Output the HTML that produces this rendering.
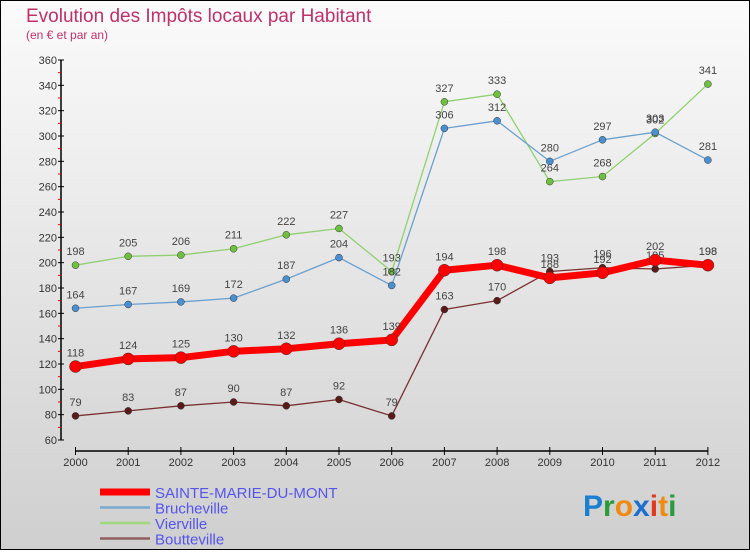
<!DOCTYPE html>
<html><head><meta charset="utf-8"><style>
body{margin:0;width:750px;height:550px;overflow:hidden;font-family:"Liberation Sans",sans-serif}
svg text{font-family:"Liberation Sans",sans-serif}
</style></head><body>
<svg width="750" height="550" xmlns="http://www.w3.org/2000/svg">
<defs><linearGradient id="bg" x1="0" y1="0" x2="0" y2="1"><stop offset="0" stop-color="#fbfbfb"/><stop offset="1" stop-color="#cfcfcf"/></linearGradient></defs>
<rect x="0.5" y="0.5" width="749" height="549" fill="url(#bg)" stroke="#000"/>
<text x="26" y="22" font-size="19" fill="#c0306a">Evolution des Impôts locaux par Habitant</text>
<text x="26" y="39" font-size="12" fill="#c0306a">(en € et par an)</text>
<g id="axes"></g>
<g id="series"></g>
<g id="legend"></g>
<text x="583" y="516" font-size="30" font-weight="bold"><tspan fill="#1a7fd0">P</tspan><tspan fill="#2a9a3a">r</tspan><tspan fill="#f08a10">o</tspan><tspan fill="#1a6fd0">x</tspan><tspan fill="#e03a20">i</tspan><tspan fill="#f08a10">t</tspan><tspan fill="#2a9a3a">i</tspan></text>
</svg>
<script>
const years=[2000,2001,2002,2003,2004,2005,2006,2007,2008,2009,2010,2011,2012];
const yTicks=[60,80,100,120,140,160,180,200,220,240,260,280,300,320,340,360];
const smdm=[118,124,125,130,132,136,139,194,198,188,192,202,198];
const bruch=[164,167,169,172,187,204,182,306,312,280,297,303,281];
const vier=[198,205,206,211,222,227,193,327,333,264,268,302,341];
const bout=[79,83,87,90,87,92,79,163,170,193,196,195,198];
const NS="http://www.w3.org/2000/svg";
const X=i=>75.5+i*52.7;
const Y=v=>440-(v-60)*380/300;
function mk(tag,attrs,parent,txt){const e=document.createElementNS(NS,tag);for(const k in attrs)e.setAttribute(k,attrs[k]);if(txt!==undefined)e.textContent=txt;parent.appendChild(e);return e;}
const ax=document.getElementById('axes');
let e=mk('line',{x1:61,y1:60,x2:61,y2:440,stroke:'#000','stroke-width':1.5},ax);


e=mk('line',{x1:75.5,y1:451,x2:708,y2:451,stroke:'#000','stroke-width':1.5},ax);


yTicks.forEach(v=>{
  mk('line',{x1:58,x2:64,y1:Y(v),y2:Y(v),stroke:'#000'},ax);
  if(v<360) mk('line',{x1:58,x2:61,y1:Y(v+10),y2:Y(v+10),stroke:'#e00'},ax);
  const t=mk('text',{x:57,y:Y(v)+4,'font-size':11,fill:'#333','text-anchor':'end'},ax,v);
  
  
});
years.forEach((y,i)=>{
  mk('line',{x1:X(i),x2:X(i),y1:447,y2:455,stroke:'#000'},ax);
  const t=mk('text',{x:X(i),y:466,'font-size':11,fill:'#333','text-anchor':'middle'},ax,y);
  
  
});
const sg=document.getElementById('series');
function series(data,color,dot,w,r,name){
  const g=mk('g',{},sg);
  
  
  mk('polyline',{points:data.map((v,i)=>X(i)+','+Y(v)).join(' '),fill:'none',stroke:color,'stroke-width':w,'stroke-linejoin':'round'},g);
  data.forEach((v,i)=>{
    const c=mk('circle',{cx:X(i),cy:Y(v),r:r,fill:dot,stroke:'#333','stroke-width':0.5},g);
    
    
    const t=mk('text',{x:X(i),y:Y(v)-10,'font-size':11,fill:'#444','text-anchor':'middle'},g,v);
    
    
  });
}
series(vier,'#90d070','#70c040',1.3,3.5,'vierville-series');
series(bruch,'#6aa0d0','#4a90d0',1.3,3.5,'brucheville-series');
series(bout,'#7a3030','#5a1a1a',1.3,3.5,'boutteville-series');
series(smdm,'#f00','#f00',7,6,'sainte-marie-du-mont-series');
const lg=document.getElementById('legend');
const items=[['SAINTE-MARIE-DU-MONT','#f00',7],['Brucheville','#7aaad0',2.5],['Vierville','#a0d880',2.5],['Boutteville','#906060',2.5]];
items.forEach((it,i)=>{
  const g=mk('g',{},lg);
  
  
  const y=492+i*15.5;
  mk('line',{x1:100,x2:150,y1:y,y2:y,stroke:it[1],'stroke-width':it[2]},g);
  mk('text',{x:155,y:y+6,'font-size':15,fill:'#5555ee'},g,it[0]);
});
</script>
</body></html>
